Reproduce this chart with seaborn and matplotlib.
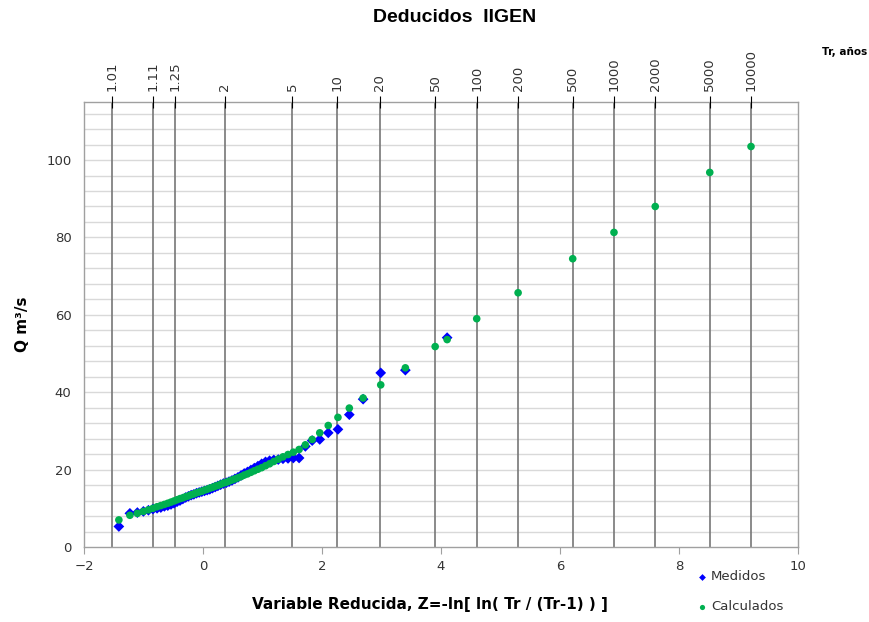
import numpy as np
import pandas as pd
import matplotlib
matplotlib.use("Agg")
import matplotlib.pyplot as plt
import seaborn as sns

# reduced variable of the plotted sample (Weibull positions, n=60)
z_sample = [4.103, 3.401, 2.987, 2.691, 2.459, 2.268, 2.105, 1.962, 1.835, 1.720,
            1.615, 1.518, 1.429, 1.344, 1.265, 1.190, 1.119, 1.051, 0.986, 0.923,
            0.863, 0.805, 0.748, 0.693, 0.640, 0.588, 0.537, 0.487, 0.438, 0.390,
            0.343, 0.296, 0.250, 0.205, 0.159, 0.114, 0.070, 0.025, -0.020, -0.064,
            -0.109, -0.154, -0.199, -0.245, -0.291, -0.339, -0.387, -0.436, -0.486, -0.538,
            -0.592, -0.649, -0.709, -0.772, -0.841, -0.917, -1.002, -1.103, -1.229, -1.414]

q_medidos = [54.1, 45.7, 45.0, 38.2, 34.2, 30.4, 29.5, 27.8, 27.5, 26.0,
             23.0, 23.0, 22.9, 22.8, 22.6, 22.5, 22.3, 22.0, 21.5, 20.9,
             20.4, 19.9, 19.4, 19.0, 18.5, 18.0, 17.6, 17.2, 16.9, 16.6,
             16.4, 16.1, 15.8, 15.5, 15.2, 14.9, 14.7, 14.5, 14.3, 14.1,
             13.9, 13.6, 13.4, 13.1, 12.8, 12.4, 12.0, 11.7, 11.3, 11.0,
             10.7, 10.5, 10.2, 10.0, 9.8, 9.5, 9.2, 8.9, 8.7, 5.3]

q_calc_sample = [53.6, 46.3, 41.9, 38.5, 35.9, 33.5, 31.4, 29.5, 27.8, 26.4,
                 25.2, 24.5, 23.9, 23.3, 22.7, 22.1, 21.5, 21.0, 20.5, 20.1,
                 19.7, 19.3, 18.9, 18.6, 18.2, 17.9, 17.6, 17.3, 17.0, 16.7,
                 16.5, 16.2, 15.9, 15.7, 15.4, 15.2, 14.9, 14.7, 14.4, 14.2,
                 14.0, 13.7, 13.5, 13.2, 13.0, 12.7, 12.5, 12.2, 11.9, 11.6,
                 11.3, 11.0, 10.7, 10.4, 10.0, 9.6, 9.2, 8.7, 8.2, 7.0]

# calculated values at design return periods
tr_design = [50, 100, 200, 500, 1000, 2000, 5000, 10000]
q_calc_design = [51.8, 59.0, 65.7, 74.5, 81.3, 88.0, 96.8, 103.5]

# return periods shown on the top axis
tr_ticks = [1.01, 1.11, 1.25, 2, 5, 10, 20, 50, 100, 200, 500, 1000, 2000, 5000, 10000]
tr_labels = ["1.01", "1.11", "1.25", "2", "5", "10", "20", "50", "100", "200",
             "500", "1000", "2000", "5000", "10000"]


def gumbel_z(tr):
    tr = np.asarray(tr, dtype=float)
    return -np.log(np.log(tr / (tr - 1)))


df_med = pd.DataFrame({"z": z_sample, "q": q_medidos, "serie": "Medidos"})
df_cal = pd.DataFrame({"z": list(z_sample) + list(gumbel_z(tr_design)),
                       "q": q_calc_sample + q_calc_design, "serie": "Calculados"})
df = pd.concat([df_med, df_cal], ignore_index=True)

sns.set_style("white")
plt.rcParams["font.family"] = ["DejaVu Sans"]
plt.rcParams["text.color"] = "black"
plt.rcParams["axes.labelcolor"] = "black"

fig = plt.figure(figsize=(8.7, 6.22), dpi=100)
ax = fig.add_axes([84 / 870, 1 - 547 / 622, 714 / 870, 445 / 622])

# horizontal grid every 4 units
for yv in np.arange(4, 116, 4):
    ax.axhline(yv, color="#d9d9d9", lw=1.0, zorder=0)
# vertical lines at the return periods
for zv in gumbel_z(tr_ticks):
    ax.axvline(zv, color="#777777", lw=1.2, zorder=1)

sns.scatterplot(data=df, x="z", y="q", hue="serie", style="serie",
                palette={"Medidos": "#0000ff", "Calculados": "#00b050"},
                markers={"Medidos": "D", "Calculados": "o"},
                s=30, linewidth=0, ax=ax, zorder=3, legend=False)

ax.set_xlim(-2, 10)
ax.set_ylim(0, 115)
ax.set_xticks(np.arange(-2, 11, 2))
ax.set_yticks(np.arange(0, 101, 20))
ax.tick_params(axis="both", direction="out", length=5, color="#a0a0a0",
               labelsize=9.5, labelcolor="#333333", pad=4)
for sp in ax.spines.values():
    sp.set_color("#a0a0a0")
    sp.set_linewidth(1.0)

ax.set_xlabel("Variable Reducida, Z=-ln[ ln( Tr / (Tr-1) ) ]", fontsize=11,
              fontweight="bold")
ax.xaxis.set_label_coords(0.485, -0.112)
ax.set_ylabel("Q m³/s", fontsize=11, fontweight="bold")
ax.yaxis.set_label_coords(-0.076, 0.5)

ax2 = ax.twiny()
ax2.set_xlim(ax.get_xlim())
ax2.set_xticks(gumbel_z(tr_ticks))
ax2.set_xticklabels(tr_labels, rotation=90, fontsize=9.5, color="#333333")
ax2.tick_params(axis="x", direction="inout", length=8, color="black", pad=4)
for sp in ax2.spines.values():
    sp.set_visible(False)

fig.text(0.523, 0.972, "Deducidos  IIGEN", ha="center", va="center",
         fontsize=14, fontweight="bold", color="black",
         family=["Liberation Sans", "DejaVu Sans"])
fig.text(0.971, 0.916, "Tr, años", ha="center", va="center", fontsize=7.5,
         fontweight="bold", color="black")

h1 = ax.scatter([], [], marker="D", s=12, color="#0000ff", linewidth=0)
h2 = ax.scatter([], [], marker="o", s=14, color="#00b050", linewidth=0)
fig.legend([h1, h2], ["Medidos", "Calculados"], loc="upper left",
           bbox_to_anchor=(0.796, 0.092), frameon=False, fontsize=9.5,
           handlelength=0.6, handletextpad=0.4, labelspacing=1.3,
           labelcolor="#333333", borderaxespad=0)

fig.savefig("out.png", dpi=100)
